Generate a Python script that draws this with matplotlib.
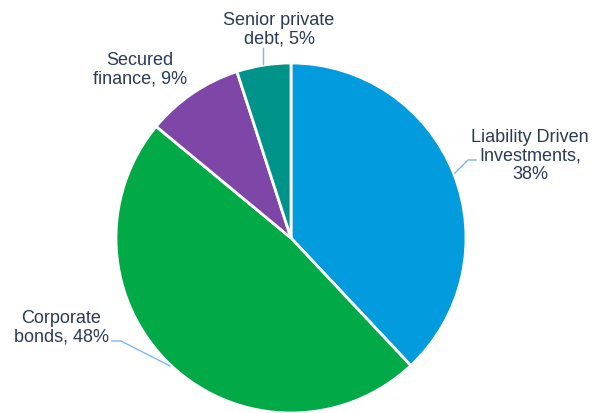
import matplotlib
matplotlib.use("Agg")
import matplotlib.pyplot as plt

categories = ["Liability Driven\nInvestments,\n38%", "Corporate\nbonds, 48%",
              "Secured\nfinance, 9%", "Senior private\ndebt, 5%"]
shares = [38, 48, 9, 5]
colors = ["#029bdd", "#01aa47", "#7e47a7", "#00938a"]

W, H = 592, 414
fig = plt.figure(figsize=(W / 100, H / 100), dpi=100)
ax = fig.add_axes([0, 0, 1, 1])

cx, cy, r = 291, 414 - 239, 175
ax.pie(shares, colors=colors, startangle=90, counterclock=False,
       center=(cx, cy), radius=r, frame=True,
       wedgeprops=dict(edgecolor="white", linewidth=2))
ax.set_xlim(0, W)
ax.set_ylim(0, H)
ax.set_aspect("equal")
ax.axis("off")

txt = dict(fontsize=13, color="#2b3a57", family="Liberation Sans",
           ha="center", va="center", linespacing=1.15)
line = dict(color="#7ab8f0", linewidth=1)

def y(v):
    return H - v

# Label text positions (pixel coords from top) and leader polylines
ax.text(530, y(156), categories[0], **txt)
ax.plot([455, 468, 476], [y(174), y(161), y(161)], **line)

ax.text(61, y(328), categories[1], **txt)
ax.plot([112, 121, 170], [y(342), y(342), y(367)], **line)

ax.text(140, y(70), categories[2], **txt)

ax.text(279, y(30), categories[3], **txt)
ax.plot([263, 263], [y(49), y(65)], **line)

fig.savefig("out.png", dpi=100)
